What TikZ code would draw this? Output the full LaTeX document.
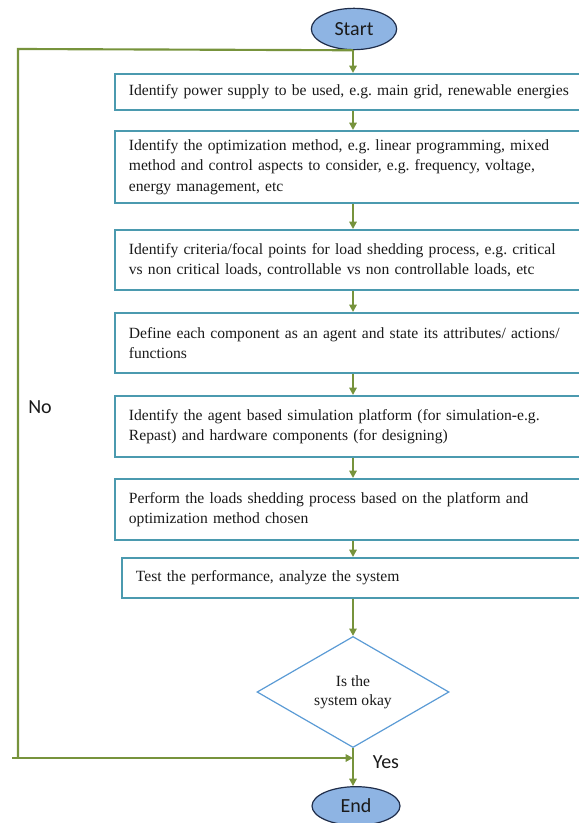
\documentclass[tikz,border=0pt]{standalone}
\usepackage{fontspec}
\setmainfont{Liberation Serif}
\newfontfamily\calib{Carlito}
\usetikzlibrary{shapes.geometric,arrows.meta}
\definecolor{flowgreen}{HTML}{77933C}
\definecolor{boxteal}{HTML}{4B9AAF}
\definecolor{diablue}{HTML}{5B9BD5}
\definecolor{ellfill}{HTML}{8EB4E3}
\definecolor{ellline}{HTML}{1F2D4A}
\definecolor{txt}{HTML}{1A1A1A}
\tikzset{
  stepbox/.style={draw=boxteal, line width=1.4pt, anchor=north west, align=left,
    inner xsep=10.5pt, text width=336pt, minimum width=357pt,
    font=\frenchspacing\fontsize{11.7}{15.2}\selectfont, text=txt},
  term/.style={ellipse, draw=ellline, fill=ellfill, line width=0.9pt,
    minimum width=64pt, minimum height=31pt, inner sep=0pt,
    font=\calib\fontsize{15}{18}\selectfont, text=txt},
  decide/.style={diamond, draw=diablue, line width=0.9pt, minimum width=144pt,
    minimum height=75pt, inner sep=0pt, align=center,
    font=\fontsize{11.7}{14.5}\selectfont, text=txt},
  flow/.style={draw=flowgreen, line width=1.6pt},
  arrow/.style={flow, -{Triangle[width=5.5pt,length=5.5pt]}},
  lbl/.style={font=\calib\fontsize{15}{18}\selectfont, text=txt, inner sep=0pt}
}
\begin{document}
\begin{tikzpicture}[x=0.75pt,y=-0.75pt]
\useasboundingbox (0,0) rectangle (578,823);
\node[term] (start) at (354,29) {Start};
\node[stepbox, minimum height=27pt] (b1) at (114,73)
  {Identify power supply to be used, e.g. main grid, renewable energies};
\node[stepbox, minimum height=54pt] (b2) at (114,130)
  {Identify the optimization method, e.g. linear programming, mixed\\
   method and control aspects to consider, e.g. frequency, voltage,\\
   energy management, etc};
\node[stepbox, minimum height=45pt] (b3) at (114,229)
  {Identify criteria/focal points for load shedding process, e.g. critical\\
   vs non critical loads, controllable vs non controllable loads, etc};
\node[stepbox, minimum height=45pt] (b4) at (114,312)
  {Define each component as an agent and state its attributes/ actions/\\
   functions};
\node[stepbox, minimum height=45.75pt] (b5) at (114,395)
  {Identify the agent based simulation platform (for simulation-e.g.\\
   Repast) and hardware components (for designing)};
\node[stepbox, minimum height=45.75pt] (b6) at (114,478)
  {Perform the loads shedding process based on the platform and\\
   optimization method chosen};
\node[stepbox, minimum height=30pt, text width=331pt, minimum width=352pt] (b7) at (121,557)
  {Test the performance, analyze the system};
\node[decide] (dec) at (353,692) {Is the\\system okay};
\node[term, minimum width=66pt, minimum height=29pt] (end) at (356,806) {End};
\node[lbl] (no) at (40,407) {No};
\node[lbl] (yes) at (386,762) {Yes};

\coordinate (c1) at (18,49);
\coordinate (c2) at (18,758);
\coordinate (c2w) at (12,758);
\coordinate (c3) at (353,758);

\draw[arrow] (start.south -| 353,0) -- (b1.north -| 353,0);
\draw[arrow] (b1.south -| 353,0) -- (b2.north -| 353,0);
\draw[arrow] (b2.south -| 353,0) -- (b3.north -| 353,0);
\draw[arrow] (b3.south -| 353,0) -- (b4.north -| 353,0);
\draw[arrow] (b4.south -| 353,0) -- (b5.north -| 353,0);
\draw[arrow] (b5.south -| 353,0) -- (b6.north -| 353,0);
\draw[arrow] (b6.south -| 353,0) -- (b7.north -| 353,0);
\draw[arrow] (b7.south -| 353,0) -- (dec.north);
\draw[arrow] (dec.south) -- (end.north -| 353,0);
\draw[flow] (start.south -| 353,0) -- (c1) -- (c2);
\draw[arrow] (c2w) -- (c3);
\end{tikzpicture}
\end{document}
